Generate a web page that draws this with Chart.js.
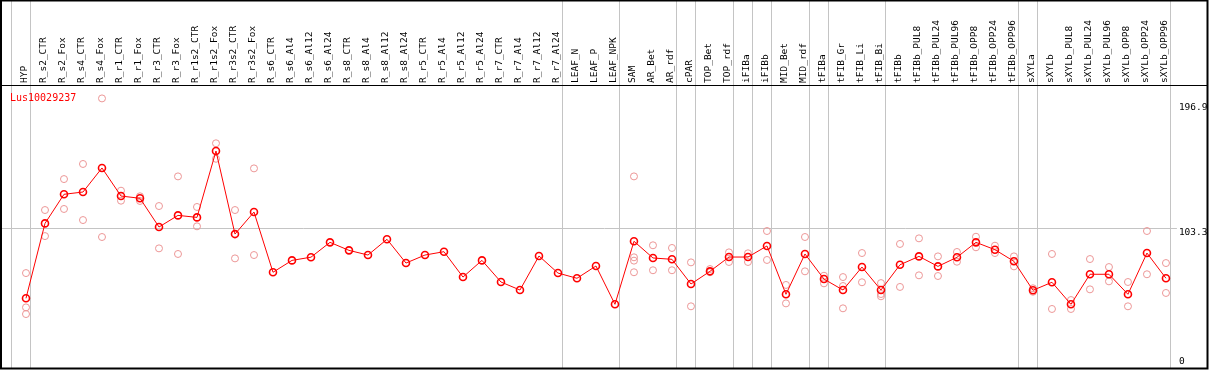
<!DOCTYPE html>
<html>
<head>
<meta charset="utf-8">
<script src="https://cdn.jsdelivr.net/npm/chart.js@4/dist/chart.umd.min.js"></script>
<style>
html,body{margin:0;padding:0;background:#fff;}
#wrap{width:1209px;height:370px;}
</style>
</head>
<body>
<div id="wrap"><canvas id="c" width="1209" height="370"></canvas></div>
<script>
const seriesName = 'Lus10029237';
const categories = ['HYP','R_s2_CTR','R_s2_Fox','R_s4_CTR','R_s4_Fox','R_r1_CTR','R_r1_Fox','R_r3_CTR','R_r3_Fox','R_r1s2_CTR','R_r1s2_Fox','R_r3s2_CTR','R_r3s2_Fox','R_s6_CTR','R_s6_Al4','R_s6_Al12','R_s6_Al24','R_s8_CTR','R_s8_Al4','R_s8_Al12','R_s8_Al24','R_r5_CTR','R_r5_Al4','R_r5_Al12','R_r5_Al24','R_r7_CTR','R_r7_Al4','R_r7_Al12','R_r7_Al24','LEAF_N','LEAF_P','LEAF_NPK','SAM','AR_Bet','AR_rdf','cPAR','TOP_Bet','TOP_rdf','iFIBa','iFIBb','MID_Bet','MID_rdf','tFIBa','tFIB_Gr','tFIB_Li','tFIB_Bi','tFIBb','tFIBb_PUL8','tFIBb_PUL24','tFIBb_PUL96','tFIBb_OPP8','tFIBb_OPP24','tFIBb_OPP96','sXYLa','sXYLb','sXYLb_PUL8','sXYLb_PUL24','sXYLb_PUL96','sXYLb_OPP8','sXYLb_OPP24','sXYLb_OPP96'];
const means = [50.7,106.8,128.6,130.3,148.3,127.3,125.6,104.1,112.8,111.3,161.0,98.8,115.3,70.2,79.1,81.5,92.6,86.6,83.1,94.9,77.1,83.1,85.6,66.6,79.1,62.9,56.9,82.4,69.6,65.7,74.9,46.2,93.4,80.9,79.9,61.4,70.9,81.6,81.6,89.9,53.7,83.9,65.1,56.9,74.1,56.9,75.8,82.1,74.6,81.4,92.6,87.1,78.4,56.7,62.7,46.2,68.7,68.7,53.7,84.6,65.7];
const rep1 = [69.6,116.8,140.0,151.3,200.4,131.3,127.1,119.8,142.0,119.1,166.8,116.8,148.0,null,null,null,null,null,null,null,null,null,null,null,null,null,null,null,null,null,null,null,142.0,90.4,88.4,77.6,72.6,85.1,84.4,101.1,60.7,96.6,67.6,66.6,84.6,62.1,91.4,95.6,82.1,85.4,96.8,90.1,82.1,58.2,83.9,49.4,80.1,74.1,62.9,101.1,77.1];
const rep2 = [43.9,97.3,117.6,109.3,96.6,123.8,123.6,88.1,83.9,104.6,155.2,80.6,83.1,null,null,null,null,null,null,null,null,null,null,null,null,null,null,null,null,null,null,null,81.4,71.7,71.7,44.7,70.2,77.9,77.9,79.4,46.9,70.9,61.9,59.9,62.7,53.9,59.2,67.9,67.4,78.1,88.9,84.6,74.6,55.6,42.7,42.7,57.4,63.4,44.7,68.7,54.7];
const rep3 = {0:38.9, 32:78.9, 43:43.2, 45:52.2};
const rep4 = {32:70.2};
const groupEnds = [-1,0,28,31,34,35,37,38,39,41,42,45,52,53,60];
const yTicks = [196.9,103.3];
const yZero = [0];

const X_MIN = -1.263, X_MAX = 62.16;
const Y_MIN = -1.5, Y_MAX = 209.7;
const monoFont = {family:'"DejaVu Sans Mono", monospace', size:9.5};

const pts = arr => arr.map((v,i)=>({x:i,y:v})).filter(p=>p.y!==null);
const ptsObj = o => Object.keys(o).map(k=>({x:+k,y:o[k]}));
const noPad = s => { s.paddingLeft = 0; s.paddingRight = 0; s.paddingTop = 0; s.paddingBottom = 0; };

const repStyle = {
  showLine:false, pointRadius:3.5, pointBorderWidth:1,
  pointBorderColor:'#ec9696', pointBackgroundColor:'rgba(0,0,0,0)', order:1
};

const framePlugin = {
  id:'frame',
  afterDraw(chart){
    const {ctx, chartArea:a} = chart;
    ctx.save();
    ctx.strokeStyle = '#000';
    ctx.lineWidth = 2;
    ctx.strokeRect(1, 0.5, chart.width-2.5, a.bottom);
    ctx.lineWidth = 1.2;
    ctx.beginPath();
    ctx.moveTo(1, a.top - 0.5);
    ctx.lineTo(chart.width-1, a.top - 0.5);
    ctx.stroke();
    ctx.fillStyle = 'red';
    ctx.font = '10px "DejaVu Sans Mono", monospace';
    ctx.textBaseline = 'top';
    ctx.textAlign = 'left';
    ctx.fillText(seriesName, a.left + 8, a.top + 7);
    ctx.restore();
  }
};

new Chart(document.getElementById('c'), {
  type:'line',
  data:{datasets:[
    {label:seriesName, data:pts(means), borderColor:'red', borderWidth:1, tension:0,
     pointRadius:3.5, pointBorderWidth:1.6, pointBorderColor:'red', pointBackgroundColor:'rgba(0,0,0,0)', order:0},
    Object.assign({label:'r1', data:pts(rep1)}, repStyle),
    Object.assign({label:'r2', data:pts(rep2)}, repStyle),
    Object.assign({label:'r3', data:ptsObj(rep3)}, repStyle),
    Object.assign({label:'r4', data:ptsObj(rep4)}, repStyle)
  ]},
  options:{
    responsive:false, animation:false,
    layout:{autoPadding:false, padding:{left:2,right:2,top:2,bottom:2}},
    plugins:{legend:{display:false}, tooltip:{enabled:false}},
    scales:{
      x:{type:'linear', position:'top', weight:2, min:X_MIN, max:X_MAX,
        afterBuildTicks: ax => { ax.ticks = categories.map((c,i)=>({value:i})); },
        afterFit: s => { s.height = 84; noPad(s); },
        ticks:{autoSkip:false, minRotation:90, maxRotation:90, padding:3, labelOffset:10, color:'#000', font:monoFont,
          callback: v => categories[v]},
        grid:{display:false, drawTicks:false}, border:{display:false}},
      xg:{type:'linear', position:'top', weight:1, min:X_MIN, max:X_MAX,
        afterBuildTicks: ax => { ax.ticks = groupEnds.map(i=>({value:i+0.25})); },
        afterFit: s => { s.height = 0; noPad(s); },
        ticks:{display:false},
        grid:{color:'#c4c4c4', lineWidth:1, drawTicks:true, tickLength:86}, border:{display:false}},
      y:{type:'linear', position:'right', min:Y_MIN, max:Y_MAX,
        afterBuildTicks: ax => { ax.ticks = yTicks.map(v=>({value:v})); },
        afterFit: s => { s.width = 0; noPad(s); },
        ticks:{mirror:true, crossAlign:'far', padding:0.5, labelOffset:4.5, color:'#000', font:monoFont,
          showLabelBackdrop:true, backdropColor:'#fff', backdropPadding:2,
          callback: v => String(v)},
        grid:{drawTicks:false, color: c => (c.tick && c.tick.value === 103.3) ? '#c4c4c4' : 'rgba(0,0,0,0)'},
        border:{display:false}},
      y0:{type:'linear', position:'right', min:Y_MIN, max:Y_MAX,
        afterBuildTicks: ax => { ax.ticks = yZero.map(v=>({value:v})); },
        afterFit: s => { s.width = 0; noPad(s); },
        ticks:{mirror:true, crossAlign:'far', padding:-22.3, labelOffset:-4, color:'#000', font:monoFont, callback: v => String(v)},
        grid:{display:false, drawTicks:false}, border:{display:false}}
    }
  },
  plugins:[framePlugin]
});
</script>
</body>
</html>
